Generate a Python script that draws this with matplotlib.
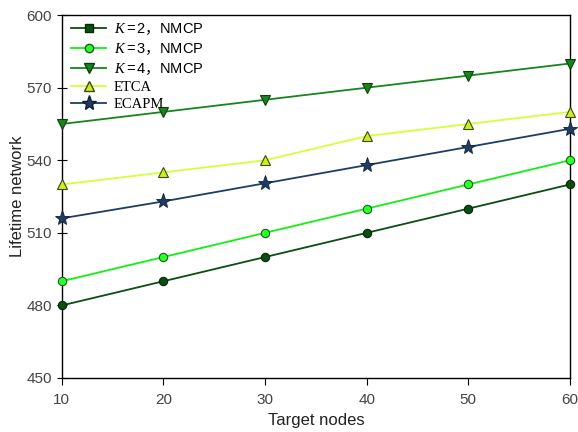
import matplotlib
matplotlib.use("Agg")
import matplotlib.pyplot as plt

# --- data ---
target_nodes = [10, 20, 30, 40, 50, 60]
k2_nmcp = [480, 490, 500, 510, 520, 530]
k3_nmcp = [490, 500, 510, 520, 530, 540]
k4_nmcp = [555, 560, 565, 570, 575, 580]
etca = [530, 535, 540, 550, 555, 560]
ecapm = [516, 523, 530.5, 538, 545.5, 553]

y_ticks = [450, 480, 510, 540, 570, 600]

# mathtext: italic K in serif, sans for the rest, CJK font only for the fullwidth comma
plt.rcParams['mathtext.fontset'] = 'custom'
plt.rcParams['mathtext.rm'] = 'Liberation Sans'
plt.rcParams['mathtext.it'] = 'Liberation Serif:italic'
plt.rcParams['mathtext.sf'] = 'Noto Sans CJK SC'

legend_font = {'family': ['Liberation Serif', 'Noto Sans CJK SC'], 'size': 10.5}

fig = plt.figure(figsize=(5.78, 4.32), dpi=100)
ax = fig.add_axes([0.107, 0.125, 0.879, 0.840])

# K=2 line: legend shows a square, the plot shows circles
ax.plot(target_nodes, k2_nmcp, color='#0b4d12', lw=1.3, marker='o', ms=6,
        mfc='#0b4d12', mec='#062a08', mew=0.8, clip_on=False, zorder=3)
ax.plot(target_nodes, k3_nmcp, color='#11f011', lw=1.3, marker='o', ms=6,
        mfc='#2bff2b', mec='#1a5e1a', mew=0.8, clip_on=False, zorder=3)
ax.plot(target_nodes, k4_nmcp, color='#17851d', lw=1.3, marker='v', ms=7,
        mfc='#17851d', mec='#0c3f0c', mew=0.8, clip_on=False, zorder=3)
ax.plot(target_nodes, etca, color='#d4ff3a', lw=1.3, marker='^', ms=7,
        mfc='#ccee22', mec='#3a4a10', mew=0.8, clip_on=False, zorder=3)
ax.plot(target_nodes, ecapm, color='#1e3d64', lw=1.3, marker='*', ms=11,
        mfc='#1e3d64', mec='#0e1f38', mew=0.6, clip_on=False, zorder=3)

# legend handles (K=2 drawn with square as in the original)
h1, = ax.plot([], [], color='#0b4d12', lw=1.3, marker='s', ms=6, mfc='#0b4d12', mec='#062a08')
h2, = ax.plot([], [], color='#11f011', lw=1.3, marker='o', ms=6, mfc='#2bff2b', mec='#1a5e1a')
h3, = ax.plot([], [], color='#17851d', lw=1.3, marker='v', ms=7, mfc='#17851d', mec='#0c3f0c')
h4, = ax.plot([], [], color='#d4ff3a', lw=1.3, marker='^', ms=7, mfc='#ccee22', mec='#3a4a10')
h5, = ax.plot([], [], color='#1e3d64', lw=1.3, marker='*', ms=11, mfc='#1e3d64', mec='#0e1f38')
labels = [r'$K\mathrm{=2}\mathsf{，}\mathrm{NMCP}$',
          r'$K\mathrm{=3}\mathsf{，}\mathrm{NMCP}$',
          r'$K\mathrm{=4}\mathsf{，}\mathrm{NMCP}$',
          'ETCA', 'ECAPM']
leg = ax.legend([h1, h2, h3, h4, h5], labels, loc='upper left', frameon=False,
                prop=legend_font, handlelength=2.4, labelspacing=0.28,
                bbox_to_anchor=(0.01, 0.995), borderaxespad=0.0,
                borderpad=0.3, handletextpad=0.5)

ax.set_xlim(10, 60)
ax.set_ylim(450, 600)
ax.set_xticks(target_nodes)
ax.set_yticks(y_ticks)

ax.tick_params(axis='x', direction='out', length=5, labelsize=11, labelcolor='#444444', pad=6)
ax.tick_params(axis='y', direction='inout', length=7, labelsize=11, labelcolor='#444444')
for sp in ax.spines.values():
    sp.set_linewidth(1.0)

ax.set_xlabel('Target nodes', fontsize=12, family='Liberation Sans', color='#222222')
ax.set_ylabel('Lifetime network', fontsize=12, family='Liberation Sans', color='#222222')
ax.yaxis.set_label_coords(-0.073, 0.5)
for lbl in ax.get_xticklabels() + ax.get_yticklabels():
    lbl.set_family('Liberation Sans')

fig.savefig('out.png', dpi=100)
